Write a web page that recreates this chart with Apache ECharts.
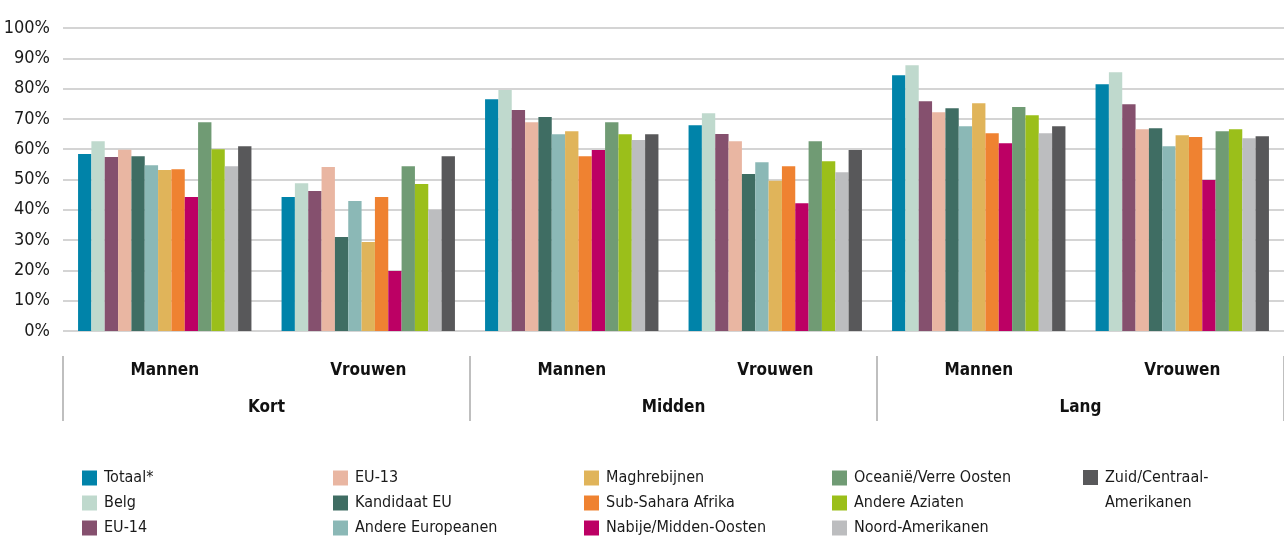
<!DOCTYPE html>
<html>
<head>
<meta charset="utf-8">
<script src="https://cdn.jsdelivr.net/npm/echarts@6/dist/echarts.min.js"></script>
<style>
  html, body { margin: 0; padding: 0; background: #ffffff; }
  #chart { width: 1284px; height: 536px; }
</style>
</head>
<body>
<div id="chart"></div>
<script>
// Categories: sex within each duration group
const subCategories = ['Mannen', 'Vrouwen', 'Mannen', 'Vrouwen', 'Mannen', 'Vrouwen'];
const groupCategories = ['Kort', 'Midden', 'Lang'];
const yTicks = [0, 10, 20, 30, 40, 50, 60, 70, 80, 90, 100];

// Shares (%) per origin group: Kort M, Kort V, Midden M, Midden V, Lang M, Lang V
const totaal          = [58.4, 44.2, 76.5, 67.9, 84.4, 81.4];
const belg            = [62.6, 48.8, 79.5, 71.9, 87.7, 85.4];
const eu14            = [57.4, 46.2, 72.9, 65.0, 75.8, 74.8];
const eu13            = [59.8, 54.1, 68.9, 62.6, 72.2, 66.6];
const kandidaatEU     = [57.7, 31.0, 70.6, 51.8, 73.5, 66.9];
const andereEuropeanen= [54.7, 42.9, 64.9, 55.7, 67.6, 61.0];
const maghrebijnen    = [53.1, 29.4, 65.9, 49.6, 75.2, 64.6];
const subSahara       = [53.4, 44.2, 57.7, 54.4, 65.3, 64.0];
const nabijeOosten    = [44.2, 19.8, 59.7, 42.2, 62.0, 49.8];
const oceanie         = [68.9, 54.4, 68.9, 62.6, 73.9, 65.9];
const andereAziaten   = [60.0, 48.5, 64.9, 56.0, 71.2, 66.6];
const noordAmerikanen = [54.4, 40.0, 63.0, 52.4, 65.3, 63.6];
const zuidAmerikanen  = [61.0, 57.7, 64.9, 59.7, 67.6, 64.3];

const seriesNames = [
  'Totaal*', 'Belg', 'EU-14', 'EU-13', 'Kandidaat EU', 'Andere Europeanen',
  'Maghrebijnen', 'Sub-Sahara Afrika', 'Nabije/Midden-Oosten',
  'Oceanië/Verre Oosten', 'Andere Aziaten', 'Noord-Amerikanen', 'Zuid/Centraal-Amerikanen'
];
const seriesData = [
  totaal, belg, eu14, eu13, kandidaatEU, andereEuropeanen,
  maghrebijnen, subSahara, nabijeOosten,
  oceanie, andereAziaten, noordAmerikanen, zuidAmerikanen
];
const seriesColors = [
  '#0083a9', '#bfd9cd', '#85506e', '#e9b6a2', '#3f6d63', '#8bb8b6',
  '#e0b45a', '#ef8231', '#bc0064', '#709b74', '#9bbf1a', '#bcbdbf', '#58585a'
];

const FONT = '"Liberation Sans Narrow", "DejaVu Sans Condensed", "Roboto Condensed", "Roboto", sans-serif';

const chart = echarts.init(document.getElementById('chart'), null, { renderer: 'canvas' });

// A square swatch sitting at the top of a taller box, so it lines up with the
// first line of a two-line legend label
const TOP_SQUARE = 'path://M0,0L15,0L15,15L0,15Z M0,40L0.001,40L0,40Z';

// Legend laid out in five columns of three entries; the last entry wraps onto two lines
const legendLefts = [82, 333, 584, 832, 1083];
const legends = legendLefts.map(function (left, col) {
  const names = seriesNames.slice(col * 3, col * 3 + 3);
  const wrapped = col === 4;
  return {
    orient: 'vertical',
    left: left,
    top: wrapped ? 465 : 470,
    height: 150,
    itemWidth: 15,
    itemHeight: wrapped ? 40 : 15,
    itemGap: 9,
    padding: 0,
    selectedMode: false,
    icon: wrapped ? TOP_SQUARE : 'rect',
    data: names,
    formatter: wrapped ? function (n) { return n.replace('-Amerikanen', '-\nAmerikanen'); } : undefined,
    textStyle: {
      fontFamily: FONT,
      fontSize: 16,
      color: '#1a1a1a',
      lineHeight: wrapped ? 25 : 15,
      padding: [0, 0, 0, 2]
    }
  };
});

const option = {
  backgroundColor: '#ffffff',
  animation: false,
  textStyle: { fontFamily: FONT },
  grid: { left: 63, top: 28, width: 1239, height: 303 },
  legend: legends,
  xAxis: [
    {
      type: 'category',
      data: subCategories,
      position: 'bottom',
      axisLine: { show: false },
      axisTick: { show: false },
      axisLabel: {
        margin: 31,
        fontFamily: FONT,
        fontSize: 17,
        fontWeight: 'bold',
        color: '#111111'
      }
    },
    {
      type: 'category',
      data: groupCategories,
      position: 'bottom',
      offset: 25,
      axisLine: { show: false },
      axisTick: {
        show: true,
        length: 65,
        lineStyle: { color: '#bfbfbf', width: 2 }
      },
      axisLabel: {
        margin: 43,
        fontFamily: FONT,
        fontSize: 17,
        fontWeight: 'bold',
        color: '#111111'
      }
    }
  ],
  yAxis: {
    type: 'value',
    min: yTicks[0],
    max: yTicks[yTicks.length - 1],
    interval: 10,
    axisLine: { show: false },
    axisTick: { show: false },
    splitLine: { lineStyle: { color: '#d4d4d4', width: 2 } },
    axisLabel: {
      margin: 13,
      fontFamily: FONT,
      fontSize: 18,
      color: '#1a1a1a',
      formatter: '{value}%'
    }
  },
  series: seriesNames.map(function (name, i) {
    return {
      name: name,
      type: 'bar',
      xAxisIndex: 0,
      data: seriesData[i],
      barGap: '0%',
      barCategoryGap: '14.8%',
      itemStyle: { color: seriesColors[i] }
    };
  })
};

chart.setOption(option);
</script>
</body>
</html>
